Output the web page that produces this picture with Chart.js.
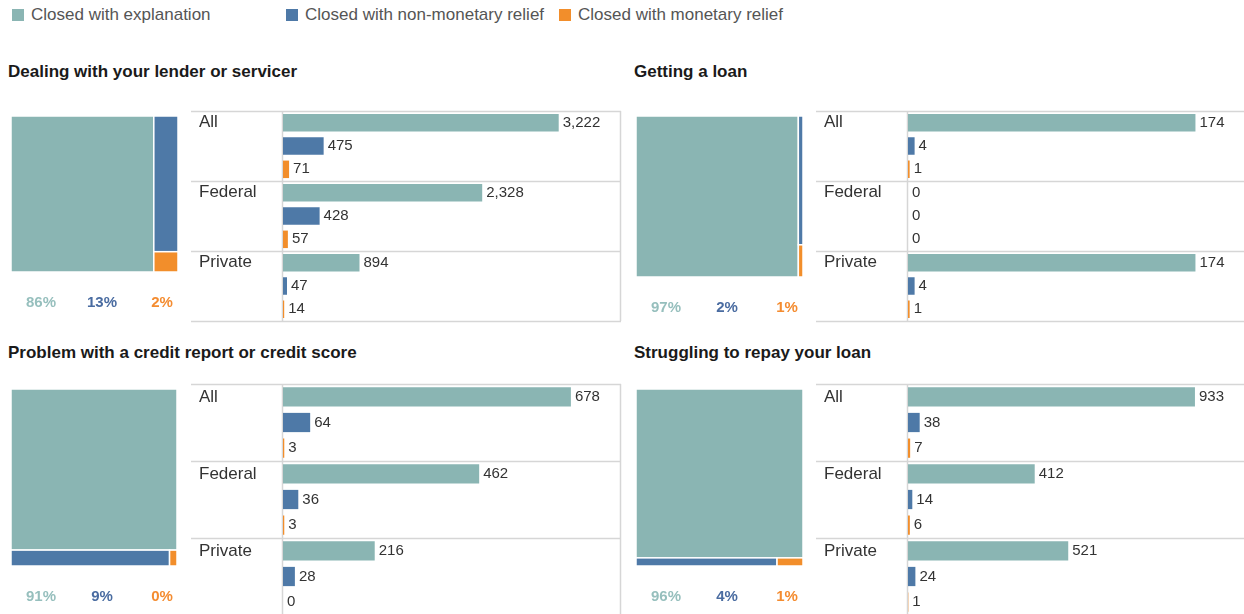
<!DOCTYPE html>
<html>
<head>
<meta charset="utf-8">
<title>Complaint outcomes by issue</title>
<script src="https://cdn.jsdelivr.net/npm/chart.js@4.4.1/dist/chart.umd.min.js"></script>
<style>
  body {
    margin: 0;
    width: 1244px;
    height: 614px;
    overflow: hidden;
    position: relative;
    background: #fff;
    font-family: "Liberation Sans", Arial, sans-serif;
  }
  .swatch { position: absolute; top: 9px; width: 12px; height: 12px; }
  .legend-text { position: absolute; top: 5px; font-size: 17px; line-height: 20px; color: #555; white-space: nowrap; }
  .title { position: absolute; font-size: 17px; line-height: 20px; font-weight: bold; color: #1a1a1a; white-space: nowrap; }
  canvas { position: absolute; }
</style>
</head>
<body>
<div id="legend"></div>
<div id="panels"></div>
<script>
// outcome categories and row groups
const outcomes = ["Closed with explanation", "Closed with non-monetary relief", "Closed with monetary relief"];
const groups = ["All", "Federal", "Private"];
const issues = [
  "Dealing with your lender or servicer",
  "Getting a loan",
  "Problem with a credit report or credit score",
  "Struggling to repay your loan"
];

// complaint counts per group (All, Federal, Private)
const lenderExplanation = [3222, 2328, 894];
const lenderNonMonetary = [475, 428, 47];
const lenderMonetary = [71, 57, 14];

const loanExplanation = [174, 0, 174];
const loanNonMonetary = [4, 0, 4];
const loanMonetary = [1, 0, 1];

const creditExplanation = [678, 462, 216];
const creditNonMonetary = [64, 36, 28];
const creditMonetary = [3, 3, 0];

const repayExplanation = [933, 412, 521];
const repayNonMonetary = [38, 14, 24];
const repayMonetary = [7, 6, 1];

// share labels shown under each treemap
const lenderShares = [86, 13, 2];
const loanShares = [97, 2, 1];
const creditShares = [91, 9, 0];
const repayShares = [96, 4, 1];

const COLORS = ["#8ab5b3", "#4e79a7", "#f28e2b"];
const SHARE_COLORS = ["#96bfbd", "#4a6ca1", "#f48c30"];
const LINE = "#d6d6d6";
Chart.defaults.font.family = '"Liberation Sans", Arial, sans-serif';

const panels = [
  { title: issues[0], series: [lenderExplanation, lenderNonMonetary, lenderMonetary], shares: lenderShares,
    split: "columns", xMax: 3950, titlePos: [8, 62],
    map: { left: 11, top: 116, w: 167, h: 156 }, table: { left: 191, top: 110, h: 213 } },
  { title: issues[1], series: [loanExplanation, loanNonMonetary, loanMonetary], shares: loanShares,
    split: "columns", xMax: 204.6, titlePos: [634, 62],
    map: { left: 636, top: 116, w: 167, h: 161 }, table: { left: 816, top: 110, h: 213 } },
  { title: issues[2], series: [creditExplanation, creditNonMonetary, creditMonetary], shares: creditShares,
    split: "rows", xMax: 796, titlePos: [8, 343],
    map: { left: 11, top: 389, w: 166, h: 177 }, table: { left: 191, top: 383, h: 234 } },
  { title: issues[3], series: [repayExplanation, repayNonMonetary, repayMonetary], shares: repayShares,
    split: "rows", xMax: 1099, titlePos: [634, 343],
    map: { left: 636, top: 389, w: 167, h: 177 }, table: { left: 816, top: 383, h: 234 } }
];

function el(tag, cls, style, text) {
  const node = document.createElement(tag);
  if (cls) node.className = cls;
  Object.assign(node.style, style);
  if (text) node.textContent = text;
  return node;
}

// legend
const legend = document.getElementById("legend");
const legendX = [12, 286, 559];
outcomes.forEach((name, i) => {
  legend.appendChild(el("div", "swatch", { left: legendX[i] + "px", background: COLORS[i] }));
  legend.appendChild(el("div", "legend-text", { left: legendX[i] + 19 + "px" }, name));
});

// treemap cells drawn on the chart's own 0..1 scales
const treemapPlugin = {
  id: "treemap",
  afterDraw(chart) {
    const o = chart.options.plugins.treemap;
    const [a, b, c] = o.values;
    const total = a + b + c;
    const cells = [];
    if (o.split === "columns") {
      const x1 = a / total;
      const y1 = b + c ? b / (b + c) : 1;
      cells.push([0, 0, x1, 1], [x1, 0, 1, y1], [x1, y1, 1, 1]);
    } else {
      const y1 = a / total;
      const x1 = b + c ? b / (b + c) : 1;
      cells.push([0, 0, 1, y1], [0, y1, x1, 1], [x1, y1, 1, 1]);
    }
    const xs = chart.scales.x;
    const ys = chart.scales.y;
    const ctx = chart.ctx;
    ctx.save();
    cells.forEach(([x0, y0, x1, y1], i) => {
      const px0 = xs.getPixelForValue(x0), px1 = xs.getPixelForValue(x1);
      const py0 = ys.getPixelForValue(y0), py1 = ys.getPixelForValue(y1);
      if (px1 - px0 <= 0 || py1 - py0 <= 0) return;
      ctx.fillStyle = COLORS[i];
      ctx.fillRect(px0, py0, px1 - px0, py1 - py0);
      ctx.strokeStyle = "#fff";
      ctx.lineWidth = 1.5;
      ctx.strokeRect(px0, py0, px1 - px0, py1 - py0);
    });
    ctx.font = 'bold 15px "Liberation Sans", Arial, sans-serif';
    ctx.textAlign = "center";
    ctx.textBaseline = "middle";
    const labelX = [30, 91, 151];
    o.shares.forEach((s, i) => {
      ctx.fillStyle = SHARE_COLORS[i];
      ctx.fillText(s + "%", chart.chartArea.left + labelX[i], chart.chartArea.bottom + 31);
    });
    ctx.restore();
  }
};

// table frame, row labels and value labels for the bar charts
const tablePlugin = {
  id: "table",
  beforeDatasetsDraw(chart) {
    const { ctx, chartArea: area } = chart;
    const band = area.height / groups.length;
    ctx.save();
    ctx.strokeStyle = LINE;
    ctx.lineWidth = 1.5;
    ctx.beginPath();
    for (let i = 0; i <= groups.length; i++) {
      const y = Math.round(area.top + i * band) + 0.5;
      ctx.moveTo(0, y);
      ctx.lineTo(area.right, y);
    }
    ctx.moveTo(area.left - 0.5, area.top);
    ctx.lineTo(area.left - 0.5, area.bottom);
    ctx.moveTo(area.right - 0.5, area.top);
    ctx.lineTo(area.right - 0.5, area.bottom);
    ctx.stroke();

    ctx.fillStyle = "#333";
    ctx.font = '17px "Liberation Sans", Arial, sans-serif';
    ctx.textAlign = "left";
    ctx.textBaseline = "middle";
    const first = chart.getDatasetMeta(0).data;
    groups.forEach((g, i) => ctx.fillText(g, 8, first[i].y));
    ctx.restore();
  },
  afterDatasetsDraw(chart) {
    const ctx = chart.ctx;
    ctx.save();
    ctx.fillStyle = "#333";
    ctx.font = '15px "Liberation Sans", Arial, sans-serif';
    ctx.textAlign = "left";
    ctx.textBaseline = "middle";
    chart.data.datasets.forEach((ds, d) => {
      chart.getDatasetMeta(d).data.forEach((bar, i) => {
        ctx.fillText(ds.data[i].toLocaleString("en-US"), bar.x + 4, bar.y);
      });
    });
    ctx.restore();
  }
};

const holder = document.getElementById("panels");

panels.forEach((p) => {
  holder.appendChild(el("div", "title", { left: p.titlePos[0] + "px", top: p.titlePos[1] + "px" }, p.title));

  // treemap
  const mapCanvas = el("canvas", null, { left: p.map.left + "px", top: p.map.top + "px" });
  mapCanvas.width = p.map.w;
  mapCanvas.height = p.map.h + 45;
  holder.appendChild(mapCanvas);
  new Chart(mapCanvas, {
    type: "scatter",
    data: { datasets: [] },
    options: {
      responsive: false,
      animation: false,
      events: [],
      layout: { padding: { bottom: 45 } },
      scales: {
        x: { type: "linear", min: 0, max: 1, display: false },
        y: { type: "linear", min: 0, max: 1, reverse: true, display: false }
      },
      plugins: {
        legend: { display: false },
        tooltip: { enabled: false },
        treemap: { values: p.series.map((s) => s[0]), shares: p.shares, split: p.split }
      }
    },
    plugins: [treemapPlugin]
  });

  // grouped horizontal bars
  const barCanvas = el("canvas", null, { left: p.table.left + "px", top: p.table.top + "px" });
  barCanvas.width = 431;
  barCanvas.height = p.table.h;
  holder.appendChild(barCanvas);
  new Chart(barCanvas, {
    type: "bar",
    data: {
      labels: groups,
      datasets: p.series.map((values, i) => ({
        label: outcomes[i],
        data: values,
        backgroundColor: COLORS[i],
        borderWidth: 0,
        categoryPercentage: 1,
        barPercentage: 0.75
      }))
    },
    options: {
      indexAxis: "y",
      responsive: false,
      animation: false,
      events: [],
      layout: { padding: { left: 92, right: 1, top: 1, bottom: 2 } },
      scales: {
        x: { min: 0, max: p.xMax, display: false },
        y: { display: false }
      },
      plugins: { legend: { display: false }, tooltip: { enabled: false } }
    },
    plugins: [tablePlugin]
  });
});
</script>
</body>
</html>
